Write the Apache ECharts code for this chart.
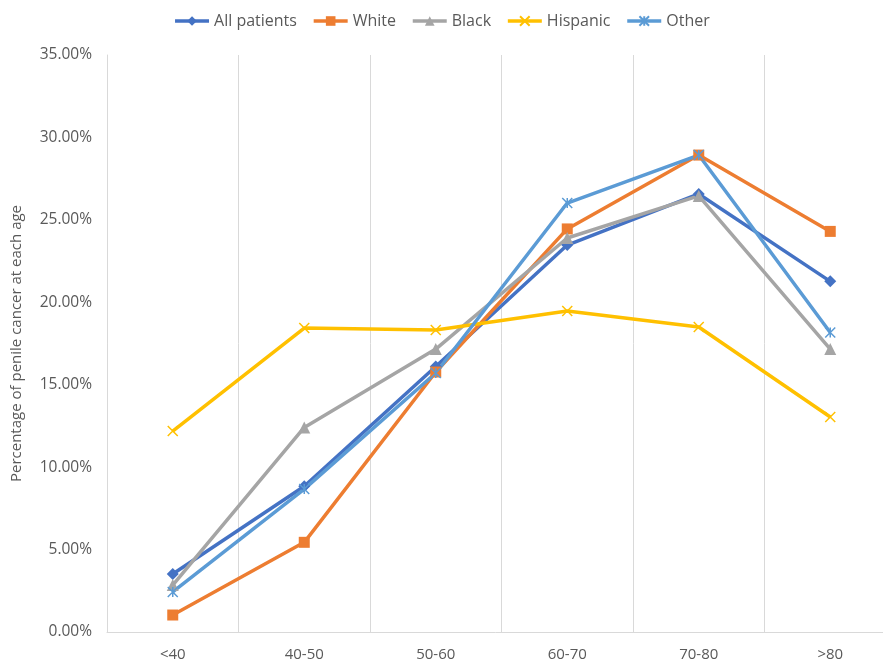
<!DOCTYPE html>
<html>
<head>
<meta charset="utf-8">
<script src="https://cdn.jsdelivr.net/npm/echarts@6/dist/echarts.min.js"></script>
<style>
  html, body { margin: 0; padding: 0; background: #fff; }
  #chart { width: 883px; height: 664px; }
</style>
</head>
<body>
<div id="chart"></div>
<script>
// Age groups along the x axis
const ageGroups = ['<40', '40-50', '50-60', '60-70', '70-80', '>80'];

// Share of penile cancer cases in each age group (%)
const allPatients = [3.52, 8.84, 16.10, 23.47, 26.57, 21.27];
const white       = [1.03, 5.44, 15.77, 24.45, 28.93, 24.30];
const black       = [2.85, 12.41, 17.16, 23.90, 26.45, 17.16];
const hispanic    = [12.19, 18.44, 18.32, 19.47, 18.50, 13.04];
const other       = [2.43, 8.67, 15.71, 26.02, 28.93, 18.17];

// Y axis ticks
const yMin = 0, yMax = 35, yStep = 5;

const FONT = 'Open Sans, Liberation Sans, Arial, sans-serif';
const TEXT = '#595959';

const crossPath = 'path://M0,0L10,10M10,0L0,10';
const starPath = 'path://M0,0L10,10M10,0L0,10M5,0L5,10';

function lineSeries(name, data, color, symbol, size, stroked) {
  return {
    name: name,
    type: 'line',
    data: data,
    symbol: symbol,
    symbolSize: size,
    showAllSymbol: true,
    lineStyle: { color: color, width: 3.5 },
    itemStyle: stroked
      ? { color: 'rgba(0,0,0,0)', borderColor: color, borderWidth: 1.5 }
      : { color: color, borderWidth: 0 },
    emphasis: { disabled: true },
    animation: false
  };
}

const chart = echarts.init(document.getElementById('chart'), null, { renderer: 'canvas' });

chart.setOption({
  backgroundColor: '#ffffff',
  textStyle: { fontFamily: FONT },
  legend: {
    top: 8,
    left: 'center',
    itemWidth: 34,
    itemHeight: 12,
    itemGap: 15,
    lineStyle: { width: 3.5 },
    textStyle: { color: TEXT, fontSize: 16, fontFamily: FONT },
    data: ['All patients', 'White', 'Black', 'Hispanic', 'Other']
  },
  grid: { left: 107, top: 55, bottom: 32, width: 789, containLabel: false, outerBoundsMode: 'none' },
  xAxis: {
    type: 'category',
    data: ageGroups,
    boundaryGap: true,
    axisLine: { show: true, lineStyle: { color: '#D9D9D9', width: 1 } },
    axisTick: { show: false },
    axisLabel: { color: TEXT, fontSize: 15, margin: 15, fontFamily: FONT },
    splitLine: { show: true, lineStyle: { color: '#D9D9D9', width: 1 } }
  },
  yAxis: {
    type: 'value',
    min: yMin,
    max: yMax,
    interval: yStep,
    name: 'Percentage of penile cancer at each age',
    nameLocation: 'middle',
    nameGap: 83,
    nameRotate: 90,
    nameTextStyle: { color: TEXT, fontSize: 15, fontFamily: FONT },
    axisLine: { show: true, lineStyle: { color: '#D9D9D9', width: 1 } },
    axisTick: { show: false },
    axisLabel: {
      color: TEXT, fontSize: 15.5, margin: 15, fontFamily: FONT,
      formatter: function (v) { return v.toFixed(2) + '%'; }
    },
    splitLine: { show: false }
  },
  series: [
    lineSeries('All patients', allPatients, '#4472C4', 'diamond', 12, false),
    lineSeries('White', white, '#ED7D31', 'rect', 11, false),
    lineSeries('Black', black, '#A5A5A5', 'triangle', 12, false),
    lineSeries('Hispanic', hispanic, '#FFC000', crossPath, 10, true),
    lineSeries('Other', other, '#5B9BD5', starPath, 10, true)
  ]
});
</script>
</body>
</html>
